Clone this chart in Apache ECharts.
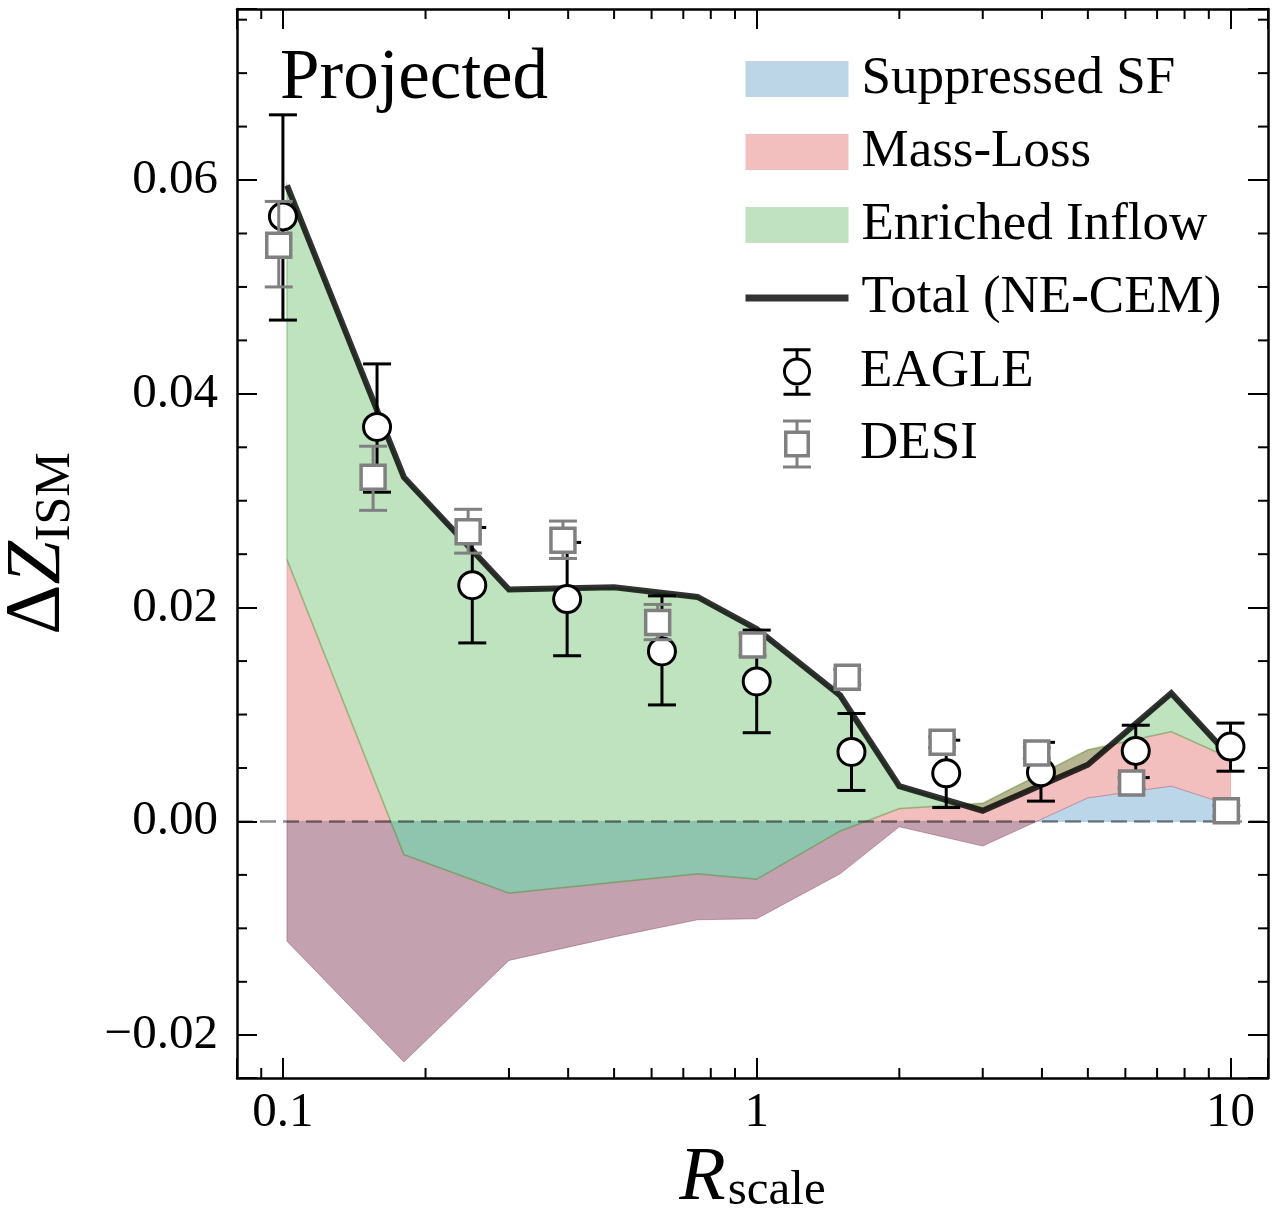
<!DOCTYPE html>
<html>
<head>
<meta charset="utf-8">
<script src="https://cdn.jsdelivr.net/npm/echarts@6/dist/echarts.min.js"></script>
<style>html,body{margin:0;padding:0;background:#fff}#c{width:1276px;height:1213px}</style>
</head>
<body>
<div id="c"></div>
<script>
// ---------- data ----------
const R_MODEL = [0.102, 0.18, 0.3, 0.5, 0.75, 1.0, 1.5, 2.0, 3.0, 5.0, 7.5, 10.0];
// cumulative edges of the three fill layers
const SF_EDGE = [-0.0112, -0.0225, -0.0130, -0.0108, -0.0092, -0.0091, -0.0049, -0.0005, -0.0023, 0.0022, 0.0033, 0.0015];
const ML_EDGE = [0.0245, -0.0031, -0.0067, -0.0057, -0.0049, -0.0054, -0.0009, 0.0012, 0.0017, 0.0067, 0.0084, 0.0059];
const TOTAL   = [0.0595, 0.0322, 0.0217, 0.0219, 0.0210, 0.0180, 0.0118, 0.0033, 0.0010, 0.0053, 0.0120, 0.0060];

const R_EAGLE = [0.1, 0.158, 0.251, 0.398, 0.631, 1.0, 1.585, 2.512, 3.981, 6.31, 10.0];
const EAGLE_Y  = [0.0566, 0.0369, 0.0221, 0.0208, 0.0159, 0.0131, 0.0065, 0.0045, 0.0046, 0.0066, 0.0070];
const EAGLE_LO = [0.0469, 0.0308, 0.0167, 0.0155, 0.0109, 0.0083, 0.0029, 0.0013, 0.0019, 0.0041, 0.0047];
const EAGLE_HI = [0.0661, 0.0428, 0.0275, 0.0261, 0.0211, 0.0179, 0.0101, 0.0076, 0.0074, 0.0090, 0.0092];

const R_DESI = [0.098, 0.155, 0.246, 0.39, 0.618, 0.98, 1.553, 2.462, 3.901, 6.184, 9.8];
const DESI_Y  = [0.0539, 0.0322, 0.0271, 0.0263, 0.0186, 0.0165, 0.0135, 0.0074, 0.0064, 0.0036, 0.0010];
const DESI_LO = [0.0500, 0.0291, 0.0251, 0.0246, 0.0170, 0.0155, 0.0128, 0.0069, 0.0059, 0.0031, 0.0005];
const DESI_HI = [0.0580, 0.0351, 0.0292, 0.0281, 0.0203, 0.0175, 0.0142, 0.0079, 0.0069, 0.0041, 0.0015];

const X_MIN = 0.08, X_MAX = 12, Y_MIN = -0.024, Y_MAX = 0.076;
const X_LABELS = [0.1, 1, 10];
const Y_LABELS = [-0.02, 0.00, 0.02, 0.04, 0.06];
const X_MINOR = [0.09, 0.2, 0.3, 0.4, 0.5, 0.6, 0.7, 0.8, 0.9, 2, 3, 4, 5, 6, 7, 8, 9];
const Y_MINOR = [-0.015, -0.01, -0.005, 0.005, 0.01, 0.015, 0.025, 0.03, 0.035, 0.045, 0.05, 0.055, 0.065, 0.07, 0.075];

// ---------- helpers ----------
const FONT = 'Liberation Serif';
const C_SF = 'rgba(31,119,180,0.3)', C_ML = 'rgba(214,39,40,0.3)', C_EI = 'rgba(44,160,44,0.3)';

function bandRenderer(fill, edgeW) {
  return function (params, api) {
    if (params.dataIndexInside !== 0) return null;
    const n = params.dataInsideLength;
    const up = [], lo = [];
    for (let i = 0; i < n; i++) {
      const x = api.value(0, i);
      up.push(api.coord([x, api.value(2, i)]));
      lo.push(api.coord([x, api.value(1, i)]));
    }
    return { type: 'polygon', shape: { points: up.concat(lo.reverse()) },
             style: { fill: fill, stroke: fill, lineWidth: edgeW } };
  };
}
function errRenderer(kind) {
  return function (params, api) {
    const x = api.value(0);
    const c = api.coord([x, api.value(1)]);
    const cl = api.coord([x, api.value(2)]);
    const ch = api.coord([x, api.value(3)]);
    const col = kind === 'eagle' ? '#000000' : '#808080';
    const cap = 14, lw = 3;
    const kids = [
      { type: 'line', shape: { x1: c[0], y1: cl[1], x2: c[0], y2: ch[1] }, style: { stroke: col, lineWidth: lw } },
      { type: 'line', shape: { x1: c[0] - cap, y1: cl[1], x2: c[0] + cap, y2: cl[1] }, style: { stroke: col, lineWidth: lw } },
      { type: 'line', shape: { x1: c[0] - cap, y1: ch[1], x2: c[0] + cap, y2: ch[1] }, style: { stroke: col, lineWidth: lw } }
    ];
    if (kind === 'eagle') {
      kids.push({ type: 'circle', shape: { cx: c[0], cy: c[1], r: 13.5 }, style: { fill: '#fff', stroke: '#000', lineWidth: 3 } });
    } else {
      kids.push({ type: 'rect', shape: { x: c[0] - 12, y: c[1] - 12, width: 24, height: 24 }, style: { fill: '#fff', stroke: '#808080', lineWidth: 3.5 } });
    }
    return { type: 'group', children: kids };
  };
}
const near = (v, arr) => arr.find(a => Math.abs(a - v) < 1e-7);

const EAGLE_ICON = 'path://M0 0H28V3H0Z M12.5 3H15.5V10H12.5Z M14 9.5A14.5 14.5 0 1 1 13.99 9.5Z M14 12.5A11.5 11.5 0 1 0 14.01 12.5Z M12.5 39H15.5V46H12.5Z M0 46H28V49H0Z';
const DESI_ICON = 'path://M0 0H28V3H0Z M12.5 3H15.5V11H12.5Z M1 11H27V38H1Z M4.5 14.5V34.5H23.5V14.5Z M12.5 38H15.5V46H12.5Z M0 46H28V49H0Z';

const axisCommon = {
  axisLine: { show: true, onZero: false, lineStyle: { color: '#000', width: 2.5 } },
  axisTick: { show: true, inside: true, length: 20, lineStyle: { color: '#000', width: 2 } },
  splitLine: { show: false },
  minorTick: { show: false }
};

const chart = echarts.init(document.getElementById('c'), null, { renderer: 'canvas' });
chart.setOption({
  animation: false,
  backgroundColor: '#fff',
  title: {
    text: 'Projected', left: 280, top: 44, padding: 0,
    textStyle: { fontFamily: FONT, fontSize: 71, fontWeight: 'normal', color: '#000' }
  },
  grid: { left: 237, right: 8, top: 9, bottom: 135, containLabel: false, outerBoundsMode: 'none' },
  legend: [
    {
      orient: 'vertical', left: 742, top: 52.5, itemWidth: 103, itemHeight: 36, itemGap: 20,
      selectedMode: false, padding: 0,
      textStyle: { fontFamily: FONT, fontSize: 53, lineHeight: 53, color: '#000', padding: [0, 0, 0, 8] },
      data: [
        { name: 'Suppressed SF', icon: 'rect', itemStyle: { color: '#bcd6e8', borderWidth: 0 } },
        { name: 'Mass-Loss', icon: 'rect', itemStyle: { color: '#f3bebe', borderWidth: 0 } },
        { name: 'Enriched Inflow', icon: 'rect', itemStyle: { color: '#c0e2c0', borderWidth: 0 } },
        { name: 'Total (NE-CEM)', itemStyle: { opacity: 0 }, lineStyle: { color: '#333333', width: 7, opacity: 1 } }
      ]
    },
    {
      orient: 'vertical', left: 783, top: 345.5, itemWidth: 28, itemHeight: 49, itemGap: 19,
      selectedMode: false, padding: 0,
      textStyle: { fontFamily: FONT, fontSize: 53, lineHeight: 53, color: '#000', padding: [0, 0, 0, 44] },
      data: [
        { name: 'EAGLE', icon: EAGLE_ICON, itemStyle: { color: '#000', borderWidth: 0 } },
        { name: 'DESI', icon: DESI_ICON, itemStyle: { color: '#808080', borderWidth: 0 } }
      ]
    }
  ],
  xAxis: [
    Object.assign({}, axisCommon, {
      type: 'log', logBase: 10, min: X_MIN, max: X_MAX, position: 'bottom',
      axisLabel: {
        show: true, margin: 11, fontFamily: FONT, fontSize: 49, color: '#000',
        formatter: v => { const m = near(v, X_LABELS); return m === undefined ? '' : String(m); }
      },
      name: '{r|R}{s|scale}', nameLocation: 'middle', nameGap: 63, nameMoveOverlap: false,
      nameTextStyle: {
        fontFamily: FONT, color: '#000',
        rich: {
          r: { fontFamily: FONT, fontSize: 76, fontStyle: 'italic', lineHeight: 76, verticalAlign: 'top' },
          s: { fontFamily: FONT, fontSize: 49, lineHeight: 49, padding: [26, 0, 0, 2], verticalAlign: 'top' }
        }
      }
    }),
    Object.assign({}, axisCommon, {
      type: 'log', logBase: 10, min: X_MIN, max: X_MAX, position: 'top',
      axisLabel: { show: false }
    })
  ],
  yAxis: [
    Object.assign({}, axisCommon, {
      type: 'value', min: Y_MIN, max: Y_MAX, splitNumber: 5, position: 'left',
      axisLabel: {
        show: true, margin: 19, fontFamily: FONT, fontSize: 49, color: '#000',
        formatter: v => { const m = near(v, Y_LABELS); if (m === undefined) return ''; return m < 0 ? '\u2212' + Math.abs(m).toFixed(2) : m.toFixed(2); }
      },
      name: '{d|\u0394}{z|Z}{s|ISM}', nameLocation: 'middle', nameRotate: 90, nameGap: 160, nameMoveOverlap: false,
      nameTextStyle: {
        fontFamily: FONT, color: '#000',
        rich: {
          d: { fontFamily: FONT, fontSize: 78, lineHeight: 78, verticalAlign: 'top' },
          z: { fontFamily: FONT, fontSize: 78, fontStyle: 'italic', lineHeight: 78, verticalAlign: 'top' },
          s: { fontFamily: FONT, fontSize: 50, lineHeight: 50, padding: [32, 0, 0, 0], verticalAlign: 'top' }
        }
      }
    }),
    Object.assign({}, axisCommon, {
      type: 'value', min: Y_MIN, max: Y_MAX, splitNumber: 5, position: 'right',
      axisLabel: { show: false }
    })
  ],
  series: [
    { name: 'Suppressed SF', type: 'custom', silent: true, z: 2, itemStyle: { color: '#bcd6e8' },
      data: R_MODEL.map((x, i) => [x, 0, SF_EDGE[i]]), encode: { x: 0, y: [1, 2] }, renderItem: bandRenderer(C_SF, 0.8) },
    { name: 'Mass-Loss', type: 'custom', silent: true, z: 3, itemStyle: { color: '#f3bebe' },
      data: R_MODEL.map((x, i) => [x, SF_EDGE[i], ML_EDGE[i]]), encode: { x: 0, y: [1, 2] }, renderItem: bandRenderer(C_ML, 0.8) },
    { name: 'Enriched Inflow', type: 'custom', silent: true, z: 4, itemStyle: { color: '#c0e2c0' },
      data: R_MODEL.map((x, i) => [x, ML_EDGE[i], TOTAL[i]]), encode: { x: 0, y: [1, 2] }, renderItem: bandRenderer(C_EI, 1.8) },
    { name: 'zero', type: 'line', silent: true, z: 5, symbol: 'none',
      data: [[X_MIN, 0], [X_MAX, 0]],
      lineStyle: { color: 'rgba(0,0,0,0.45)', width: 2.5, type: [16, 7] } },
    { name: 'Total (NE-CEM)', type: 'line', silent: true, z: 6, symbol: 'none', showSymbol: false,
      data: R_MODEL.map((x, i) => [x, TOTAL[i]]),
      itemStyle: { color: '#333333' },
      lineStyle: { color: 'rgba(0,0,0,0.8)', width: 6, join: 'miter' } },
    { name: 'EAGLE', type: 'custom', silent: true, z: 7, clip: false, itemStyle: { color: '#000' },
      data: R_EAGLE.map((x, i) => [x, EAGLE_Y[i], EAGLE_LO[i], EAGLE_HI[i]]), encode: { x: 0, y: [1, 2, 3] },
      renderItem: errRenderer('eagle') },
    { name: 'DESI', type: 'custom', silent: true, z: 8, clip: false, itemStyle: { color: '#808080' },
      data: R_DESI.map((x, i) => [x, DESI_Y[i], DESI_LO[i], DESI_HI[i]]), encode: { x: 0, y: [1, 2, 3] },
      renderItem: errRenderer('desi') },
    { name: 'xminor', type: 'custom', silent: true, z: 20, clip: false,
      data: X_MINOR.map(v => [v, Y_MIN]), encode: { x: 0, y: 1 },
      renderItem: (p, api) => {
        const v = api.value(0); const b = api.coord([v, Y_MIN]); const t = api.coord([v, Y_MAX]);
        return { type: 'group', children: [
          { type: 'line', shape: { x1: b[0], y1: b[1], x2: b[0], y2: b[1] - 10 }, style: { stroke: '#000', lineWidth: 2 } },
          { type: 'line', shape: { x1: t[0], y1: t[1], x2: t[0], y2: t[1] + 10 }, style: { stroke: '#000', lineWidth: 2 } }
        ] };
      } },
    { name: 'yminor', type: 'custom', silent: true, z: 20, clip: false,
      data: Y_MINOR.map(v => [X_MIN, v]), encode: { x: 0, y: 1 },
      renderItem: (p, api) => {
        const v = api.value(1); const l = api.coord([X_MIN, v]); const r = api.coord([X_MAX, v]);
        return { type: 'group', children: [
          { type: 'line', shape: { x1: l[0], y1: l[1], x2: l[0] + 10, y2: l[1] }, style: { stroke: '#000', lineWidth: 2 } },
          { type: 'line', shape: { x1: r[0], y1: r[1], x2: r[0] - 10, y2: r[1] }, style: { stroke: '#000', lineWidth: 2 } }
        ] };
      } }
  ]
});
</script>
</body>
</html>
